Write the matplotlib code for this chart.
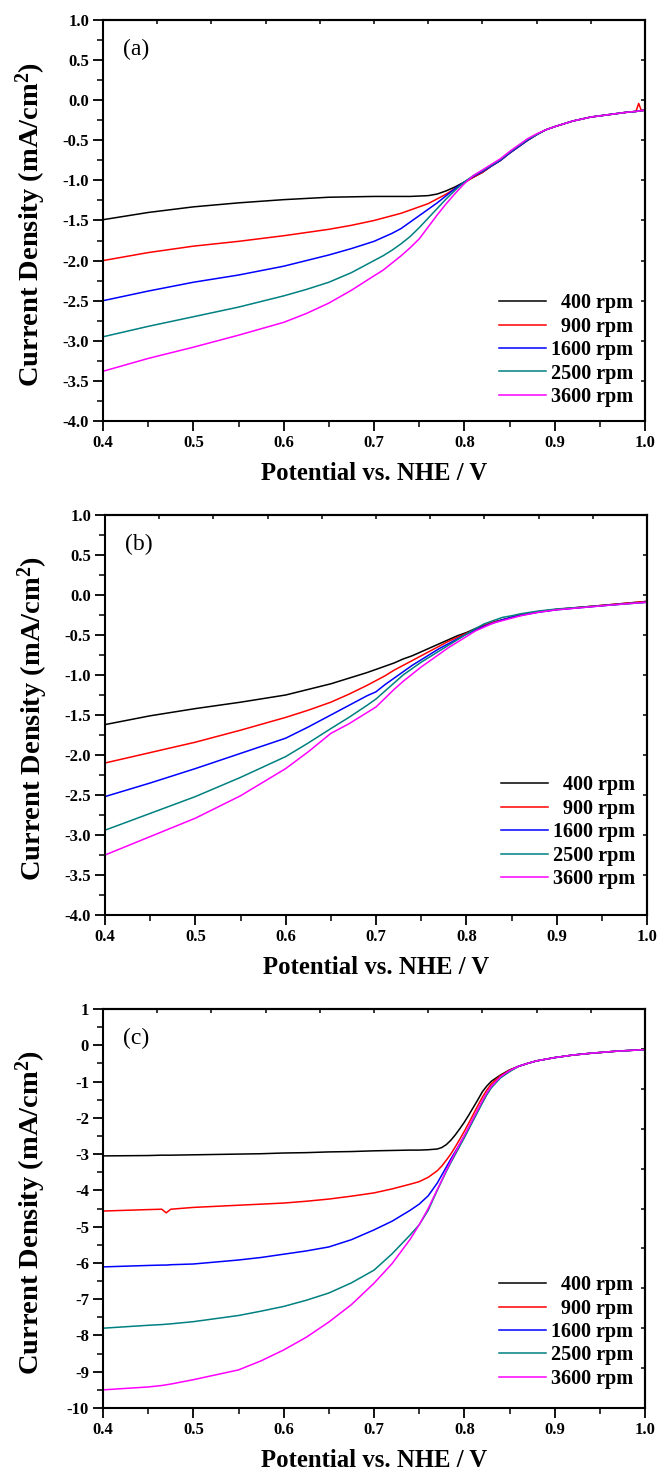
import numpy as np
import matplotlib
matplotlib.use("Agg")
import matplotlib.pyplot as plt
from matplotlib.ticker import MultipleLocator, FormatStrFormatter

# ---------------- data ----------------
rpm_labels = ["  400 rpm", "  900 rpm", "1600 rpm", "2500 rpm", "3600 rpm"]
colors = ["#000000", "#FF0000", "#0000FF", "#008080", "#FF00FF"]

# panel (a)
potential_a = [0.40, 0.45, 0.50, 0.55, 0.60, 0.625, 0.65, 0.675, 0.70,
               0.71, 0.72, 0.73, 0.74, 0.75, 0.76, 0.77, 0.78, 0.79, 0.80,
               0.81, 0.82, 0.83, 0.84, 0.85, 0.86, 0.87, 0.88, 0.89, 0.90,
               0.92, 0.94, 0.96, 0.98, 0.99, 0.993, 0.996, 1.00]
a_400 = [-1.49, -1.40, -1.33, -1.28, -1.24, -1.225, -1.21, -1.205, -1.20,
         -1.20, -1.20, -1.20, -1.20, -1.195, -1.19, -1.17, -1.13, -1.08, -1.02,
         -0.96, -0.90, -0.82, -0.75, -0.66, -0.58, -0.50, -0.43, -0.37, -0.33,
         -0.26, -0.21, -0.18, -0.15, -0.14, -0.135, -0.13, -0.125]
a_900 = [-2.00, -1.90, -1.82, -1.76, -1.69, -1.65, -1.61, -1.56, -1.50,
         -1.47, -1.44, -1.41, -1.37, -1.33, -1.29, -1.23, -1.17, -1.10, -1.03,
         -0.96, -0.90, -0.82, -0.75, -0.66, -0.58, -0.50, -0.43, -0.37, -0.33,
         -0.26, -0.21, -0.18, -0.15, -0.14, -0.04, -0.13, -0.125]
a_1600 = [-2.50, -2.38, -2.27, -2.18, -2.07, -2.00, -1.93, -1.85, -1.76,
          -1.71, -1.66, -1.60, -1.52, -1.44, -1.36, -1.28, -1.19, -1.10, -1.02,
          -0.95, -0.89, -0.82, -0.75, -0.66, -0.58, -0.50, -0.43, -0.37, -0.33,
          -0.26, -0.21, -0.18, -0.15, -0.14, -0.135, -0.13, -0.125]
a_2500 = [-2.95, -2.82, -2.70, -2.58, -2.44, -2.36, -2.27, -2.15, -2.00,
          -1.94, -1.87, -1.79, -1.70, -1.59, -1.47, -1.35, -1.23, -1.12, -1.02,
          -0.94, -0.88, -0.81, -0.74, -0.65, -0.57, -0.49, -0.43, -0.37, -0.33,
          -0.26, -0.21, -0.18, -0.15, -0.14, -0.135, -0.13, -0.125]
a_3600 = [-3.38, -3.22, -3.08, -2.93, -2.77, -2.66, -2.53, -2.37, -2.19,
          -2.12, -2.03, -1.94, -1.84, -1.73, -1.58, -1.43, -1.29, -1.16, -1.04,
          -0.94, -0.87, -0.80, -0.73, -0.64, -0.56, -0.48, -0.42, -0.37, -0.33,
          -0.26, -0.21, -0.18, -0.15, -0.14, -0.135, -0.13, -0.125]

# panel (b)
potential_b = [0.40, 0.45, 0.50, 0.55, 0.60, 0.625, 0.65, 0.67, 0.69, 0.70,
               0.71, 0.72, 0.73, 0.74, 0.75, 0.76, 0.77, 0.78, 0.79, 0.80,
               0.81, 0.82, 0.83, 0.84, 0.85, 0.86, 0.88, 0.90, 0.93, 0.96, 1.00]
b_400 = [-1.62, -1.51, -1.42, -1.34, -1.25, -1.18, -1.11, -1.04, -0.97, -0.93,
         -0.89, -0.85, -0.80, -0.76, -0.71, -0.66, -0.61, -0.56, -0.51, -0.47,
         -0.42, -0.38, -0.34, -0.31, -0.28, -0.25, -0.21, -0.18, -0.15, -0.12, -0.08]
b_900 = [-2.10, -1.97, -1.84, -1.69, -1.53, -1.44, -1.34, -1.24, -1.13, -1.07,
         -1.01, -0.94, -0.88, -0.82, -0.76, -0.70, -0.64, -0.58, -0.53, -0.48,
         -0.43, -0.38, -0.34, -0.31, -0.28, -0.25, -0.21, -0.18, -0.15, -0.12, -0.08]
b_1600 = [-2.52, -2.35, -2.17, -1.98, -1.79, -1.65, -1.50, -1.38, -1.26, -1.21,
          -1.12, -1.04, -0.96, -0.88, -0.81, -0.74, -0.67, -0.61, -0.55, -0.49,
          -0.44, -0.39, -0.35, -0.31, -0.28, -0.255, -0.215, -0.185, -0.155, -0.125, -0.09]
b_2500 = [-2.94, -2.73, -2.52, -2.28, -2.02, -1.85, -1.67, -1.53, -1.38, -1.30,
          -1.20, -1.10, -1.00, -0.92, -0.84, -0.77, -0.70, -0.63, -0.56, -0.49,
          -0.42, -0.36, -0.32, -0.28, -0.26, -0.235, -0.20, -0.175, -0.15, -0.125, -0.09]
b_3600 = [-3.25, -3.02, -2.79, -2.51, -2.17, -1.96, -1.73, -1.61, -1.47, -1.40,
          -1.29, -1.18, -1.08, -0.99, -0.90, -0.82, -0.74, -0.66, -0.59, -0.52,
          -0.45, -0.40, -0.35, -0.32, -0.29, -0.26, -0.215, -0.185, -0.155, -0.125, -0.09]

# panel (c)
potential_c = [0.40, 0.45, 0.465, 0.47, 0.475, 0.50, 0.55, 0.575, 0.60, 0.625, 0.65, 0.675, 0.70,
               0.72, 0.74, 0.75, 0.76, 0.77, 0.775, 0.78, 0.785, 0.79, 0.795, 0.80,
               0.805, 0.81, 0.815, 0.82, 0.825, 0.83, 0.84, 0.85,
               0.86, 0.87, 0.88, 0.90, 0.92, 0.94, 0.97, 1.00]
c_400 = [-3.05, -3.04, -3.03, -3.03, -3.03, -3.02, -3.00, -2.99, -2.97, -2.96, -2.94, -2.93, -2.91,
         -2.90, -2.89, -2.89, -2.88, -2.86, -2.82, -2.74, -2.62, -2.47, -2.30, -2.12,
         -1.92, -1.71, -1.50, -1.28, -1.12, -0.99, -0.82, -0.68,
         -0.58, -0.50, -0.43, -0.34, -0.27, -0.22, -0.16, -0.12]
c_900 = [-4.57, -4.53, -4.52, -4.62, -4.52, -4.47, -4.41, -4.38, -4.35, -4.30, -4.24, -4.16, -4.07,
         -3.96, -3.83, -3.76, -3.64, -3.46, -3.33, -3.17, -3.00, -2.80, -2.59, -2.37,
         -2.14, -1.90, -1.66, -1.43, -1.23, -1.06, -0.84, -0.69,
         -0.58, -0.50, -0.43, -0.34, -0.27, -0.22, -0.16, -0.12]
c_1600 = [-6.11, -6.07, -6.06, -6.06, -6.05, -6.03, -5.92, -5.85, -5.76, -5.67, -5.56, -5.36, -5.09,
          -4.85, -4.55, -4.38, -4.15, -3.80, -3.58, -3.36, -3.14, -2.93, -2.72, -2.50,
          -2.27, -2.03, -1.79, -1.55, -1.33, -1.14, -0.88, -0.71,
          -0.58, -0.50, -0.43, -0.34, -0.27, -0.22, -0.16, -0.12]
c_2500 = [-7.80, -7.72, -7.70, -7.69, -7.68, -7.62, -7.45, -7.33, -7.20, -7.03, -6.83, -6.55, -6.20,
          -5.75, -5.23, -4.95, -4.55, -4.00, -3.74, -3.48, -3.24, -3.01, -2.78, -2.55,
          -2.31, -2.07, -1.83, -1.59, -1.36, -1.17, -0.90, -0.73,
          -0.58, -0.50, -0.43, -0.34, -0.27, -0.22, -0.16, -0.12]
c_3600 = [-9.50, -9.42, -9.38, -9.36, -9.34, -9.22, -8.95, -8.70, -8.40, -8.05, -7.63, -7.15, -6.56,
          -6.02, -5.35, -4.95, -4.50, -3.98, -3.72, -3.45, -3.20, -2.96, -2.72, -2.49,
          -2.25, -2.01, -1.77, -1.53, -1.31, -1.13, -0.87, -0.70,
          -0.58, -0.50, -0.43, -0.34, -0.27, -0.22, -0.16, -0.12]

panel_tags = ["(a)", "(b)", "(c)"]

# ---------------- style ----------------
plt.rcParams.update({
    "font.family": ["Liberation Serif", "DejaVu Serif"],
    "font.weight": "bold",
    "axes.unicode_minus": False,
    "mathtext.fontset": "custom",
    "mathtext.rm": "Liberation Serif:bold",
    "mathtext.bf": "Liberation Serif:bold",
    "mathtext.it": "Liberation Serif:bold:italic",
})

W, H = 658, 1472
fig = plt.figure(figsize=(W / 100, H / 100), dpi=100)


def make_axes(left, right, top, bottom):
    return fig.add_axes([left / W, 1 - bottom / H, (right - left) / W, (bottom - top) / H])


panels = [
    dict(box=(103, 645, 20, 421), x=potential_a,
         ys=[a_400, a_900, a_1600, a_2500, a_3600],
         ylim=(-4.0, 1.0), ymaj=0.5, fmt="%.1f", tag_y=0.63, leg_y=0.035),
    dict(box=(105, 647, 515, 915), x=potential_b,
         ys=[b_400, b_900, b_1600, b_2500, b_3600],
         ylim=(-4.0, 1.0), ymaj=0.5, fmt="%.1f", tag_y=0.63, leg_y=0.065),
    dict(box=(103, 645, 1009, 1408), x=potential_c,
         ys=[c_400, c_900, c_1600, c_2500, c_3600],
         ylim=(-10, 1), ymaj=1, fmt="%d", tag_y=0.2, leg_y=0.048),
]

for p, tag in zip(panels, panel_tags):
    ax = make_axes(*p["box"])
    for y, c, lab in zip(p["ys"], colors, rpm_labels):
        ax.plot(p["x"], y, color=c, lw=1.1, label=lab)

    ax.set_xlim(0.4, 1.0)
    ax.set_ylim(*p["ylim"])
    ax.xaxis.set_major_locator(MultipleLocator(0.1))
    ax.xaxis.set_minor_locator(MultipleLocator(0.05))
    ax.yaxis.set_major_locator(MultipleLocator(p["ymaj"]))
    ax.yaxis.set_minor_locator(MultipleLocator(p["ymaj"] / 2))
    ax.xaxis.set_major_formatter(FormatStrFormatter("%.1f"))
    ax.yaxis.set_major_formatter(FormatStrFormatter(p["fmt"]))
    ax.tick_params(which="major", direction="out", length=7, width=1.3,
                   labelsize=12, top=False, right=False, pad=3)
    ax.tick_params(which="minor", direction="out", length=4, width=1.1,
                   top=False, right=False)
    for s in ax.spines.values():
        s.set_linewidth(1.5)

    # Origin-style top / right axes with 10 divisions
    secx = ax.secondary_xaxis("top")
    secx.set_xticks(np.linspace(0.4, 1.0, 11))
    secx.tick_params(direction="in", length=3, width=1.1, labeltop=False)
    secx.spines["top"].set_linewidth(1.5)
    secy = ax.secondary_yaxis("right")
    secy.set_yticks(np.linspace(p["ylim"][1], p["ylim"][0], 11))
    secy.tick_params(direction="in", length=3, width=1.1, labelright=False)
    secy.spines["right"].set_linewidth(1.5)

    ax.set_xlabel("Potential vs. NHE / V", fontsize=17.8, fontweight="bold")
    ax.xaxis.set_label_coords(0.5, -0.103)
    ax.set_ylabel("Current Density (mA/cm$^{2}$)", fontsize=20.5, fontweight="bold")
    ax.yaxis.set_label_coords(-0.101, 0.49)

    ax.text(0.422, p["tag_y"], tag, transform=ax.transData,
            fontsize=17, fontweight="normal", va="center", ha="left")

    ax.legend(loc="lower right", bbox_to_anchor=(0.978, p["leg_y"]),
              frameon=False, fontsize=14.5, handlelength=2.3, handletextpad=0.25,
              labelspacing=0.17, borderpad=0, borderaxespad=0)

fig.savefig("out.png", dpi=100)
